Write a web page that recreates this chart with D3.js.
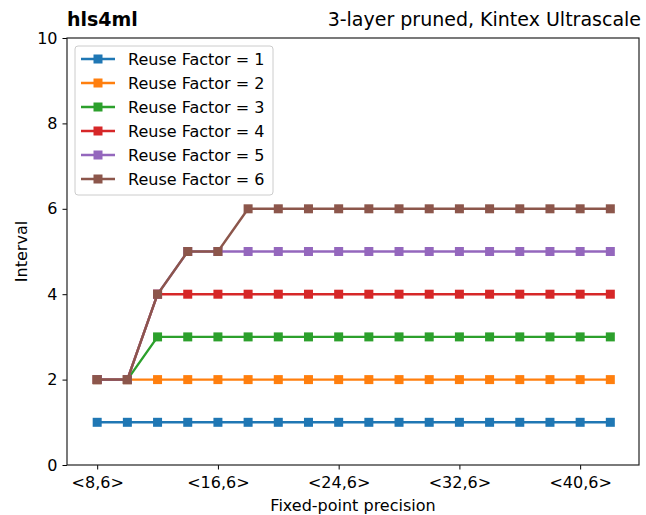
<!DOCTYPE html>
<html><head><meta charset="utf-8">
<script src="https://cdn.jsdelivr.net/npm/d3@7"></script>
<style>body{margin:0;background:#fff;} text{font-family:"DejaVu Sans",sans-serif;}</style>
</head><body><svg id="c" width="646" height="515"></svg>
<script>
const precisions = [8,10,12,14,16,18,20,22,24,26,28,30,32,34,36,38,40,42];
const xTickValues = [8,16,24,32,40];
const xTickLabels = ["<8,6>","<16,6>","<24,6>","<32,6>","<40,6>"];
const yTickValues = [0,2,4,6,8,10];
const seriesNames = ["Reuse Factor = 1","Reuse Factor = 2","Reuse Factor = 3","Reuse Factor = 4","Reuse Factor = 5","Reuse Factor = 6"];
const colors = ["#1f77b4","#ff7f0e","#2ca02c","#d62728","#9467bd","#8c564b"];
const rf1 = [1,1,1,1,1,1,1,1,1,1,1,1,1,1,1,1,1,1];
const rf2 = [2,2,2,2,2,2,2,2,2,2,2,2,2,2,2,2,2,2];
const rf3 = [2,2,3,3,3,3,3,3,3,3,3,3,3,3,3,3,3,3];
const rf4 = [2,2,4,4,4,4,4,4,4,4,4,4,4,4,4,4,4,4];
const rf5 = [2,2,4,5,5,5,5,5,5,5,5,5,5,5,5,5,5,5];
const rf6 = [2,2,4,5,5,6,6,6,6,6,6,6,6,6,6,6,6,6];
const seriesValues = [rf1,rf2,rf3,rf4,rf5,rf6];

const svg = d3.select("#c");
const L=67, T=38, R=639, B=465;
const x = d3.scaleLinear().domain([6,43.9]).range([L,R]);
const y = d3.scaleLinear().domain([0,10]).range([B,T]);

// axes
const xa = svg.append("g").attr("transform",`translate(0,${B})`)
  .call(d3.axisBottom(x).tickValues(xTickValues).tickFormat((d,i)=>xTickLabels[i]).tickSize(4.5).tickPadding(5));
const ya = svg.append("g").attr("transform",`translate(${L},0)`)
  .call(d3.axisLeft(y).tickValues(yTickValues).tickSize(4.5).tickPadding(5));
[xa,ya].forEach(a=>{a.select(".domain").remove();a.selectAll("text").attr("font-size",16).attr("fill","#000").style("font-family","DejaVu Sans");a.selectAll("line").attr("stroke","#000").attr("stroke-width",1);});
xa.selectAll("text").attr("dy","0.85em");

svg.append("rect").attr("x",L).attr("y",T).attr("width",R-L).attr("height",B-T)
  .attr("fill","none").attr("stroke","#222").attr("stroke-width",1.2);

const line = d3.line().x((d,i)=>x(precisions[i])).y(d=>y(d));
seriesValues.forEach((vals,si)=>{
  const g = svg.append("g");
  g.append("path").datum(vals).attr("d",line).attr("fill","none").attr("stroke",colors[si]).attr("stroke-width",2.4);
  g.selectAll("rect").data(vals).join("rect")
    .attr("x",(d,i)=>x(precisions[i])-4.5).attr("y",d=>y(d)-4.5).attr("width",9).attr("height",9)
    .attr("fill",colors[si]);
});

// legend
const lg = svg.append("g");
lg.append("rect").attr("x",75).attr("y",46).attr("width",198).attr("height",149).attr("rx",3)
  .attr("fill","#fff").attr("fill-opacity",0.8).attr("stroke","#ccc").attr("stroke-width",1);
seriesNames.forEach((n,i)=>{
  const yy = 59 + i*24;
  lg.append("line").attr("x1",81).attr("x2",115).attr("y1",yy).attr("y2",yy).attr("stroke",colors[i]).attr("stroke-width",2.4);
  lg.append("rect").attr("x",93.5).attr("y",yy-4.5).attr("width",9).attr("height",9).attr("fill",colors[i]);
  lg.append("text").attr("x",128).attr("y",yy).attr("dy","0.36em").attr("font-size",16).text(n);
});

// titles
svg.append("text").attr("x",L).attr("y",26).attr("font-size",19).attr("font-weight","bold").text("hls4ml");
svg.append("text").attr("x",R+2).attr("y",26).attr("font-size",19).attr("text-anchor","end").text("3-layer pruned, Kintex Ultrascale");
svg.append("text").attr("x",(L+R)/2).attr("y",511).attr("font-size",16).attr("text-anchor","middle").text("Fixed-point precision");
svg.append("text").attr("transform",`translate(27,${(T+B)/2}) rotate(-90)`).attr("font-size",16).attr("text-anchor","middle").text("Interval");
</script></body></html>
